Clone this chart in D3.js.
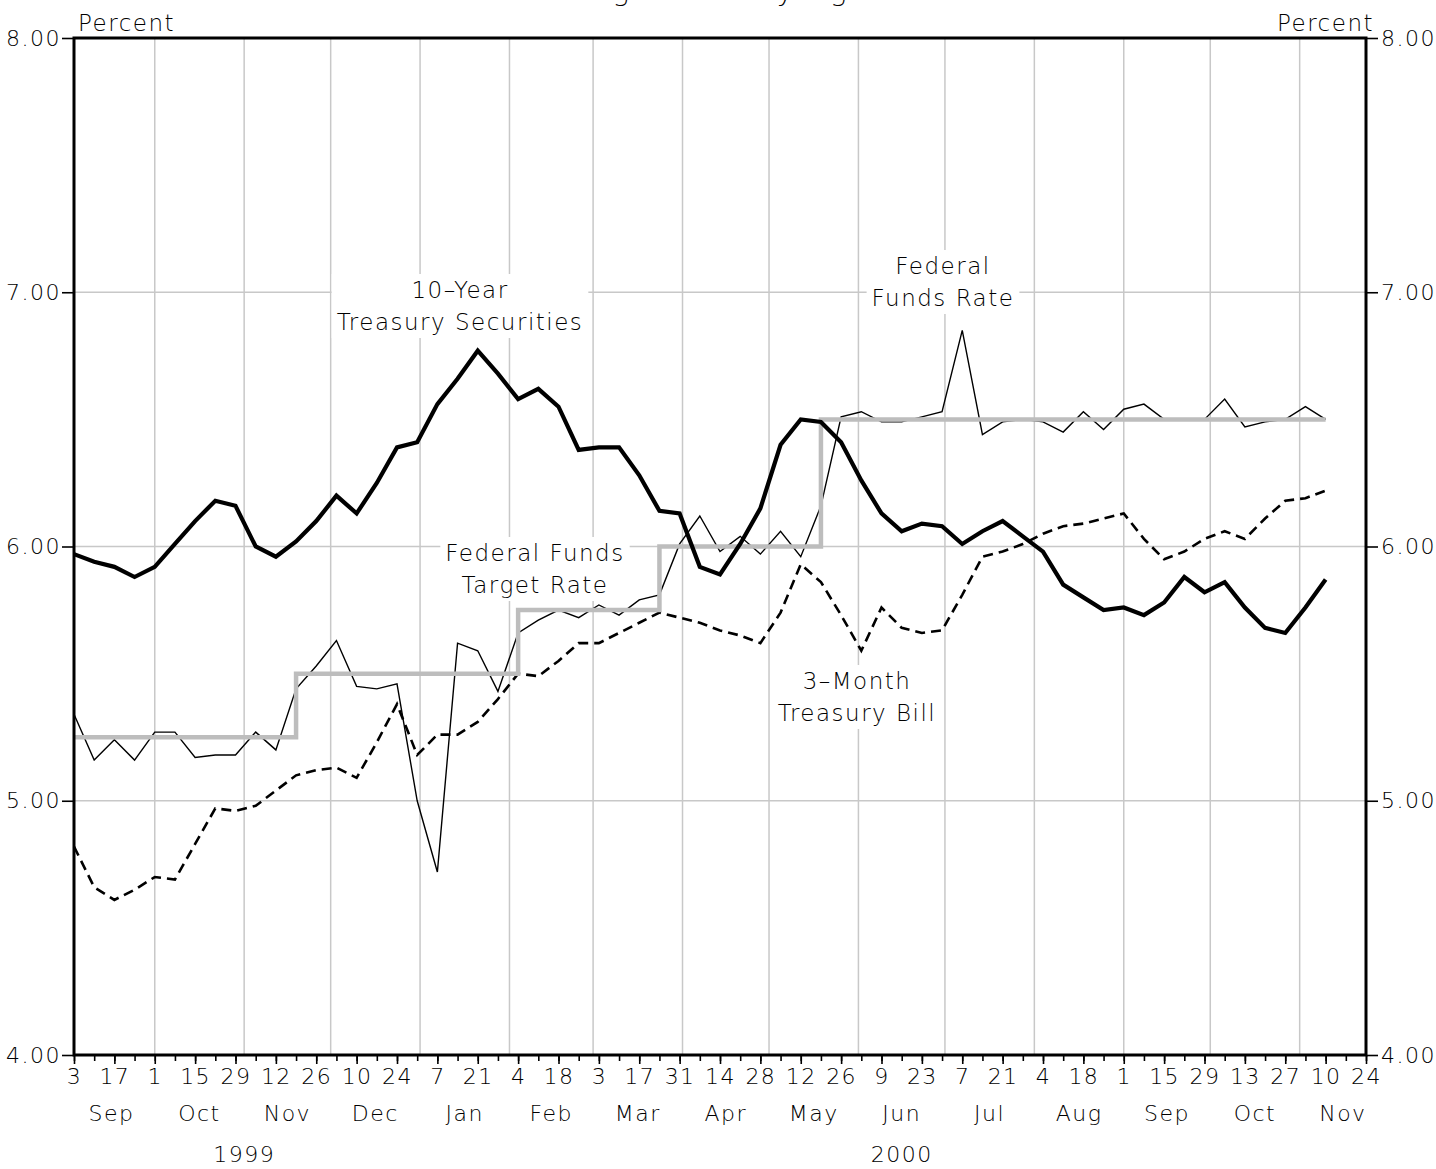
<!DOCTYPE html>
<html>
<head>
<meta charset="utf-8">
<script src="https://cdn.jsdelivr.net/npm/d3@7"></script>
<style>
    body { margin: 0; background: #fff; }
    svg { display: block; }
    text { font-family: "DejaVu Sans", sans-serif; font-weight: 200; fill: #000; letter-spacing: 1.5px; }
</style>
</head>
<body>
<div id="chart"></div>
<script>

// weekly averages, first week ending Fri Sep 3 1999
var firstWeek = new Date(Date.UTC(1999, 8, 3));
var lastTick = new Date(Date.UTC(2000, 10, 24));

var tenYear = [5.97, 5.94, 5.92, 5.88, 5.92, 6.01, 6.10, 6.18, 6.16, 6.00,
    5.96, 6.02, 6.10, 6.20, 6.13, 6.25, 6.39, 6.41, 6.56, 6.66,
    6.77, 6.68, 6.58, 6.62, 6.55, 6.38, 6.39, 6.39, 6.28, 6.14,
    6.13, 5.92, 5.89, 6.01, 6.15, 6.40, 6.50, 6.49, 6.41, 6.26,
    6.13, 6.06, 6.09, 6.08, 6.01, 6.06, 6.10, 6.04, 5.98, 5.85,
    5.80, 5.75, 5.76, 5.73, 5.78, 5.88, 5.82, 5.86, 5.76, 5.68,
    5.66, 5.76, 5.87];

var fedFunds = [5.34, 5.16, 5.24, 5.16, 5.27, 5.27, 5.17, 5.18, 5.18, 5.27,
    5.20, 5.44, 5.53, 5.63, 5.45, 5.44, 5.46, 5.00, 4.72, 5.62,
    5.59, 5.43, 5.66, 5.71, 5.75, 5.72, 5.77, 5.73, 5.79, 5.81,
    6.01, 6.12, 5.98, 6.04, 5.97, 6.06, 5.96, 6.16, 6.51, 6.53,
    6.49, 6.49, 6.51, 6.53, 6.85, 6.44, 6.49, 6.50, 6.49, 6.45,
    6.53, 6.46, 6.54, 6.56, 6.50, 6.50, 6.50, 6.58, 6.47, 6.49,
    6.50, 6.55, 6.50];

var threeMonth = [4.82, 4.66, 4.61, 4.65, 4.70, 4.69, 4.83, 4.97, 4.96, 4.98,
    5.04, 5.10, 5.12, 5.13, 5.09, 5.23, 5.38, 5.18, 5.26, 5.26,
    5.31, 5.40, 5.50, 5.49, 5.55, 5.62, 5.62, 5.66, 5.70, 5.74,
    5.72, 5.70, 5.67, 5.65, 5.62, 5.74, 5.93, 5.86, 5.73, 5.59,
    5.76, 5.68, 5.66, 5.67, 5.81, 5.96, 5.98, 6.01, 6.05, 6.08,
    6.09, 6.11, 6.13, 6.03, 5.95, 5.98, 6.03, 6.06, 6.03, 6.11,
    6.18, 6.19, 6.22];

var targetRate = [5.25, 5.25, 5.25, 5.25, 5.25, 5.25, 5.25, 5.25, 5.25, 5.25,
    5.25, 5.50, 5.50, 5.50, 5.50, 5.50, 5.50, 5.50, 5.50, 5.50,
    5.50, 5.50, 5.75, 5.75, 5.75, 5.75, 5.75, 5.75, 5.75, 6.00,
    6.00, 6.00, 6.00, 6.00, 6.00, 6.00, 6.00, 6.50, 6.50, 6.50,
    6.50, 6.50, 6.50, 6.50, 6.50, 6.50, 6.50, 6.50, 6.50, 6.50,
    6.50, 6.50, 6.50, 6.50, 6.50, 6.50, 6.50, 6.50, 6.50, 6.50,
    6.50, 6.50, 6.50];

var yTicks = [4, 5, 6, 7, 8];
var monthNames = ["Jan", "Feb", "Mar", "Apr", "May", "Jun", "Jul", "Aug", "Sep", "Oct", "Nov", "Dec"];
var yearLabels = [
    {text: "1999", date: new Date(Date.UTC(1999, 10, 1))},
    {text: "2000", date: new Date(Date.UTC(2000, 5, 16))}
];
var notes = [
    ["10\u2013Year", "Treasury Securities"],
    ["Federal", "Funds Rate"],
    ["Federal Funds", "Target Rate"],
    ["3\u2013Month", "Treasury Bill"]
];


var width = 1436, height = 1169;
// careful: "top" is taken by window
var mLeft = 74, mRight = 1366, mTop = 38, mBottom = 1055;

var svg = d3.select("#chart").append("svg")
    .attr("width", width)
    .attr("height", height);

var x = d3.scaleUtc()
    .domain([firstWeek, lastTick])
    .range([mLeft, mRight]);

var y = d3.scaleLinear()
    .domain([4, 8])
    .range([mBottom, mTop]);

var weeks = tenYear.map(function(d, i) { return d3.utcDay.offset(firstWeek, 7 * i); });

// title, mostly cut off by the top of the page
svg.append("text")
    .attr("x", 720)
    .attr("y", 0)
    .attr("text-anchor", "middle")
    .style("font-size", "28px")
    .text("Averages of Daily Figures");

// grid
var monthStarts = d3.utcMonth.range(d3.utcMonth.ceil(firstWeek), lastTick);
svg.append("g").selectAll("line")
    .data(monthStarts)
    .enter().append("line")
    .attr("x1", function(d) { return x(d); })
    .attr("x2", function(d) { return x(d); })
    .attr("y1", mTop)
    .attr("y2", mBottom)
    .style("stroke", "#c8c8c8")
    .style("stroke-width", 1.5);

svg.append("g").selectAll("line")
    .data([5, 6, 7])
    .enter().append("line")
    .attr("x1", mLeft)
    .attr("x2", mRight)
    .attr("y1", function(d) { return y(d); })
    .attr("y2", function(d) { return y(d); })
    .style("stroke", "#c8c8c8")
    .style("stroke-width", 1.5);

// white boxes behind the notes are drawn here, the text later
var noteLayer = svg.append("g");

// series
var line = d3.line()
    .x(function(d, i) { return x(weeks[i]); })
    .y(function(d) { return y(d); });

svg.append("path")
    .datum(fedFunds)
    .attr("d", line)
    .style("fill", "none")
    .style("stroke", "#000")
    .style("stroke-width", 1.4)
    .style("stroke-linejoin", "miter");

svg.append("path")
    .datum(threeMonth)
    .attr("d", line)
    .style("fill", "none")
    .style("stroke", "#000")
    .style("stroke-width", 2.6)
    .style("stroke-dasharray", "10,6");

svg.append("path")
    .datum(targetRate)
    .attr("d", line.curve(d3.curveStepAfter))
    .style("fill", "none")
    .style("stroke", "#bdbdbd")
    .style("stroke-width", 4.5);

line.curve(d3.curveLinear);

svg.append("path")
    .datum(tenYear)
    .attr("d", line)
    .style("fill", "none")
    .style("stroke", "#000")
    .style("stroke-width", 4.2)
    .style("stroke-linejoin", "miter");

// frame
svg.append("rect")
    .attr("x", mLeft)
    .attr("y", mTop)
    .attr("width", mRight - mLeft)
    .attr("height", mBottom - mTop)
    .style("fill", "none")
    .style("stroke", "#000")
    .style("stroke-width", 3);

// y axes
var yLeft = svg.append("g")
    .attr("transform", "translate(" + mLeft + ",0)")
    .call(d3.axisLeft(y).tickValues(yTicks).tickSize(12).tickPadding(1).tickFormat(d3.format(".2f")));

var yRight = svg.append("g")
    .attr("transform", "translate(" + mRight + ",0)")
    .call(d3.axisRight(y).tickValues(yTicks).tickSize(12).tickPadding(3).tickFormat(d3.format(".2f")));

// x axis, minor ticks every week, labels every other week
var fridays = d3.utcFriday.range(firstWeek, d3.utcDay.offset(lastTick, 1));

var xMinor = svg.append("g")
    .attr("transform", "translate(0," + mBottom + ")")
    .call(d3.axisBottom(x).tickValues(fridays).tickSize(6).tickFormat(""));

var xMajor = svg.append("g")
    .attr("transform", "translate(0," + mBottom + ")")
    .call(d3.axisBottom(x)
        .tickValues(fridays.filter(function(d, i) { return i % 2 == 0; }))
        .tickSize(9)
        .tickPadding(4)
        .tickFormat(d3.utcFormat("%-d")));

[yLeft, yRight, xMinor, xMajor].forEach(function(g) {
    g.select(".domain").remove();
    g.selectAll(".tick line").style("stroke", "#000").style("stroke-width", 1.6);
    g.selectAll("text")
        .style("font-size", "22px")
        .attr("fill", null);
});
// d3 sets font-family on the axis group, drop it so the css one is used
[yLeft, yRight, xMinor, xMajor].forEach(function(g) {
    g.attr("font-family", null).attr("font-size", null);
});

// month names in the middle of each month
var months = d3.utcMonth.range(d3.utcMonth.floor(firstWeek), lastTick);
svg.append("g").selectAll("text")
    .data(months)
    .enter().append("text")
    .attr("x", function(d) { return x(new Date((+d + +d3.utcMonth.offset(d, 1)) / 2)); })
    .attr("y", 1121)
    .attr("text-anchor", "middle")
    .style("font-size", "22px")
    .text(function(d) { return monthNames[d.getUTCMonth()]; });

svg.append("g").selectAll("text")
    .data(yearLabels)
    .enter().append("text")
    .attr("x", function(d) { return x(d.date); })
    .attr("y", 1162)
    .attr("text-anchor", "middle")
    .style("font-size", "22px")
    .text(function(d) { return d.text; });

// Percent headers
svg.append("text")
    .attr("x", mLeft + 4)
    .attr("y", 31)
    .style("font-size", "23px")
    .text("Percent");

svg.append("text")
    .attr("x", mRight + 8)
    .attr("y", 31)
    .attr("text-anchor", "end")
    .style("font-size", "23px")
    .text("Percent");

// notes on the lines
var notePos = [[460, 298], [943, 274], [535, 561], [857, 689]];

notes.forEach(function(lines, k) {
    var g = svg.append("g");
    lines.forEach(function(t, j) {
        g.append("text")
            .attr("x", notePos[k][0])
            .attr("y", notePos[k][1] + j * 32)
            .attr("text-anchor", "middle")
            .style("font-size", "23px")
            .text(t);
    });
    var b = g.node().getBBox();
    noteLayer.append("rect")
        .attr("x", b.x - 5)
        .attr("y", b.y - 3)
        .attr("width", b.width + 10)
        .attr("height", b.height + 6)
        .style("fill", "#fff");
});

</script>
</body>
</html>
